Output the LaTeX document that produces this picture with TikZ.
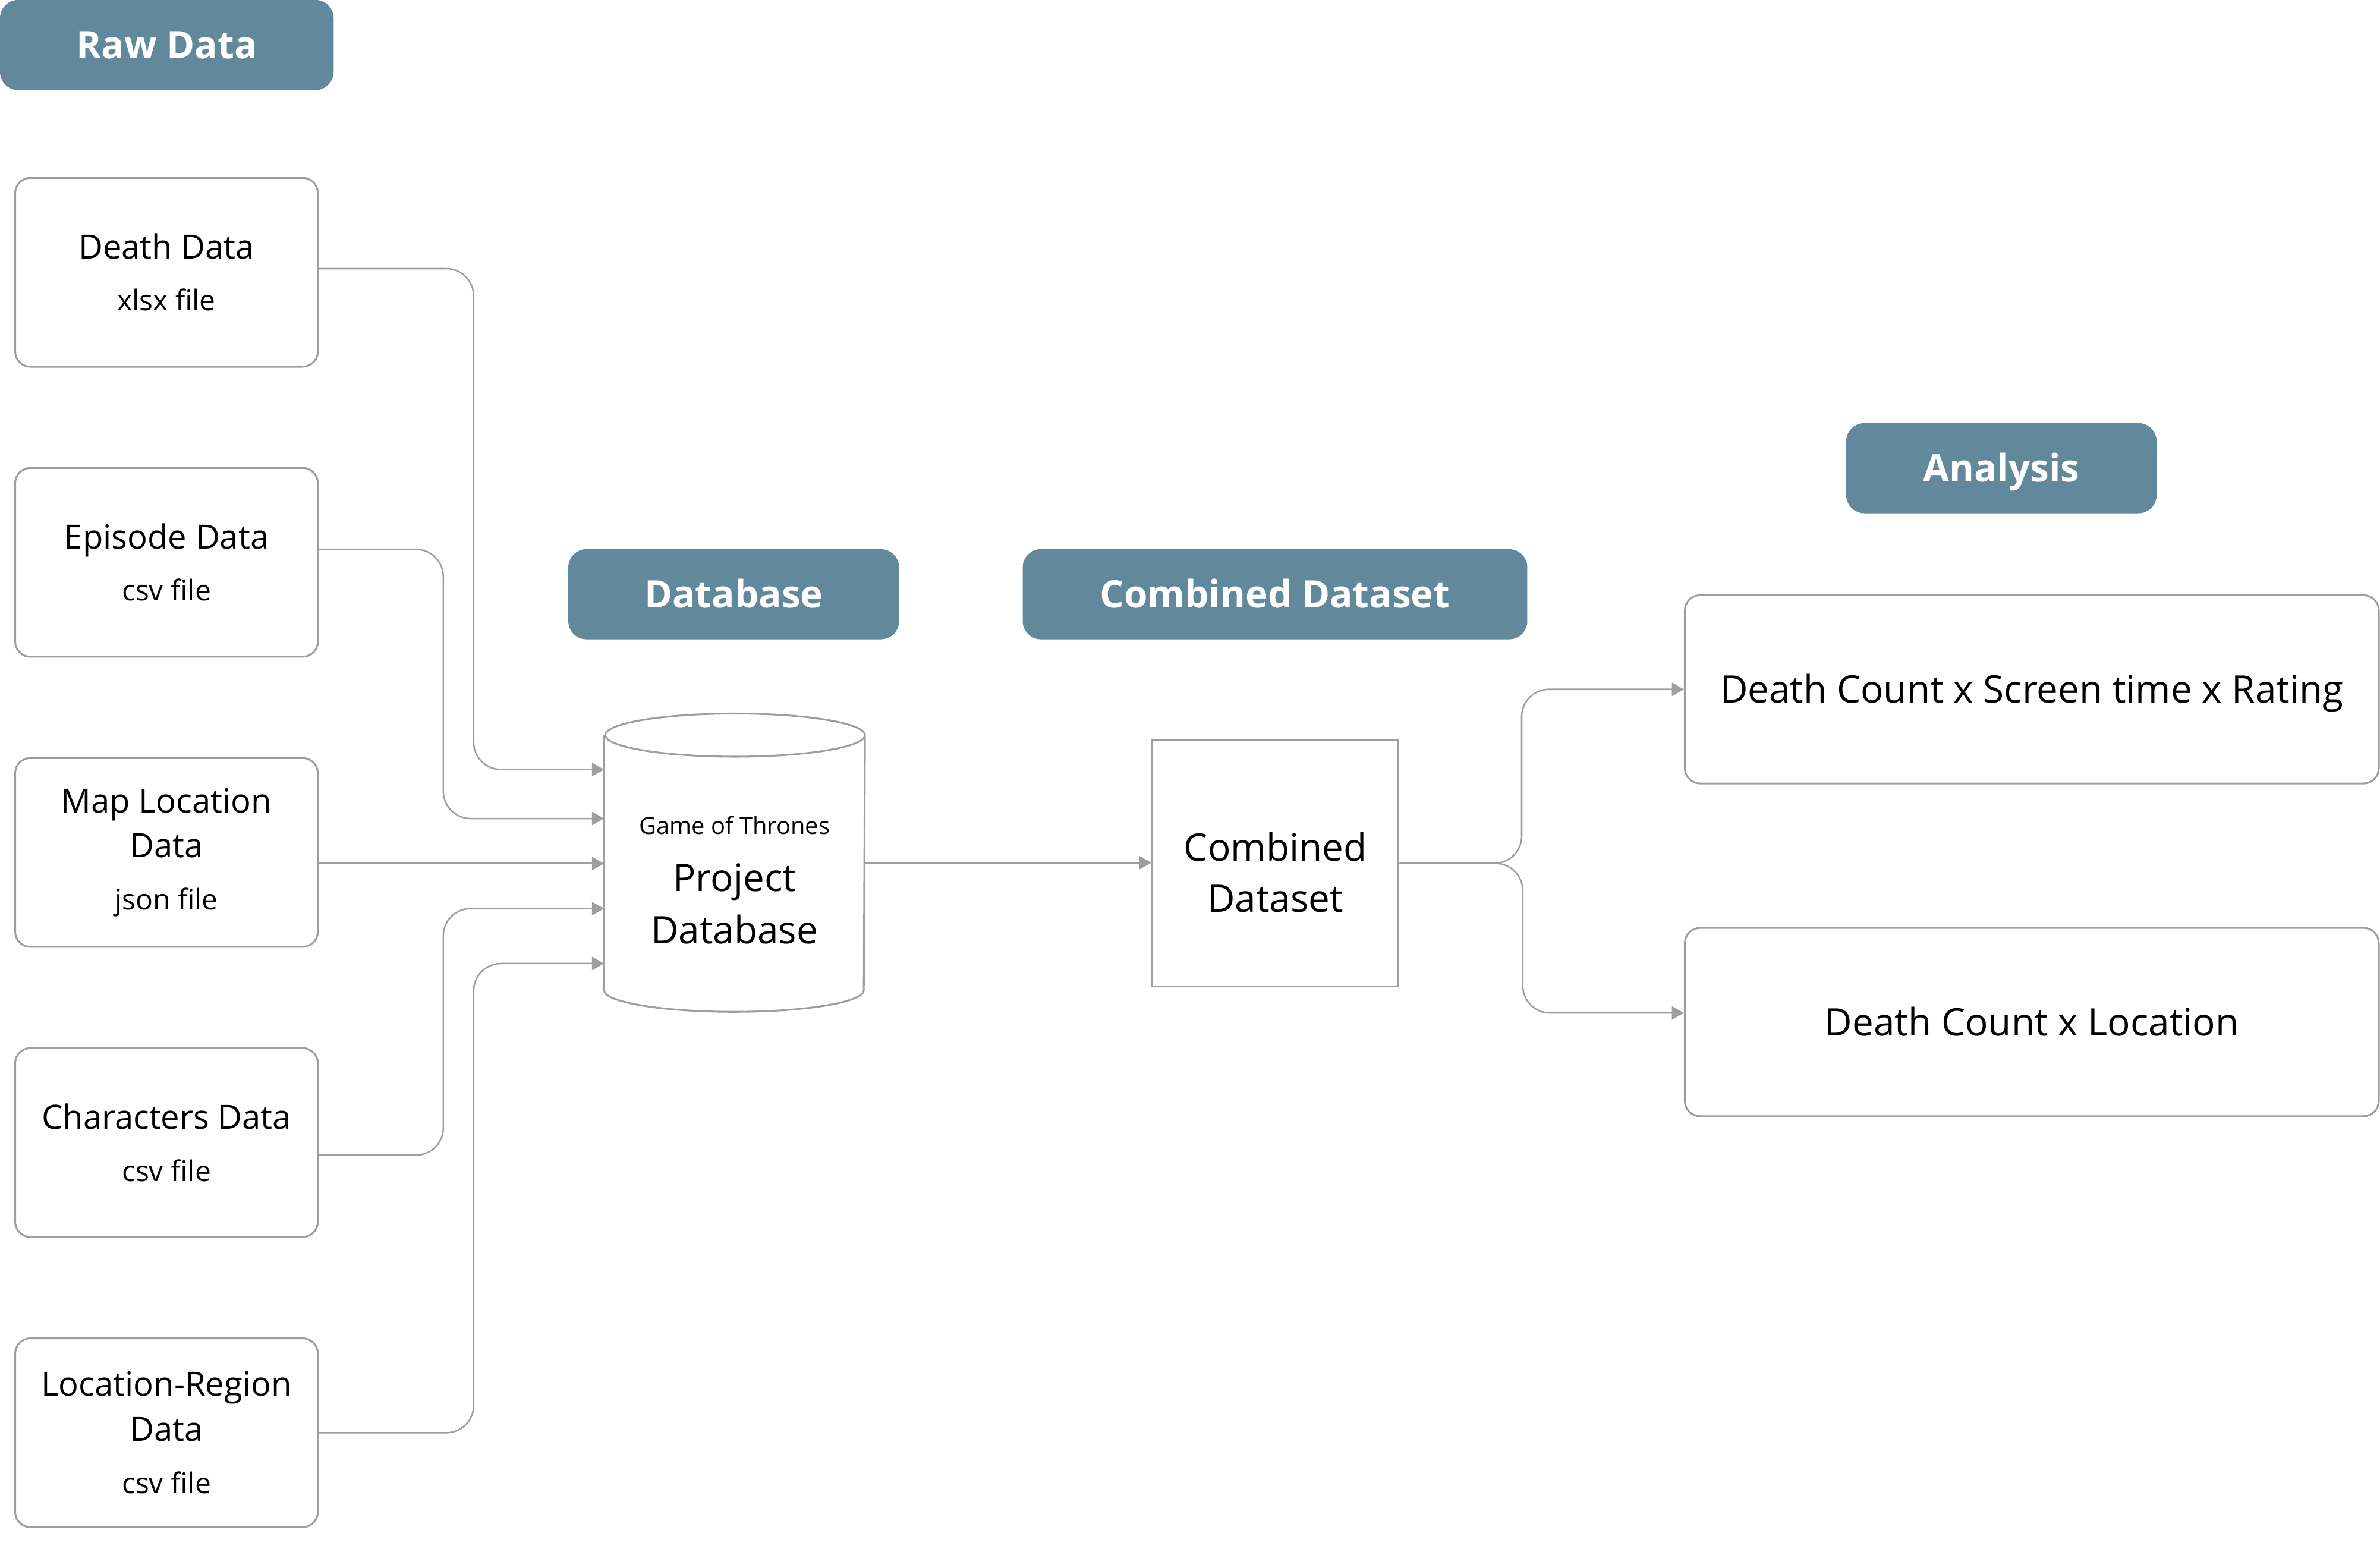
\documentclass[tikz,border=0pt]{standalone}
\usepackage{fontspec}
\setmainfont{Open Sans}
\usetikzlibrary{arrows.meta}
\definecolor{linegray}{HTML}{9E9E9E}
\definecolor{headblue}{HTML}{62889B}
\tikzset{
  >={Triangle[length=4pt,width=4.4pt]},
  header/.style={fill=headblue, rounded corners=6pt, text=white,
    font=\fontsize{12.5}{15}\selectfont\bfseries, minimum height=29.7pt,
    text height=8.93pt, text depth=0pt, inner sep=0pt},
  rawbox/.style={draw=linegray, line width=0.6pt, rounded corners=5pt,
    minimum width=99.7pt, minimum height=62.2pt, align=center,
    font=\fontsize{11}{14.8}\selectfont, inner sep=0pt},
  result/.style={draw=linegray, line width=0.6pt, rounded corners=5pt,
    minimum width=228.6pt, minimum height=62pt, font=\fontsize{12.5}{17}\selectfont,
    text height=8.93pt, text depth=0pt},
  link/.style={draw=linegray, line width=0.5pt, rounded corners=9pt, ->},
}
\newcommand{\filetype}[1]{{\fontsize{9.4}{11}\selectfont #1}}

\begin{document}
\begin{tikzpicture}[x=0.5pt,y=-0.5pt]
    \useasboundingbox (0,0) rectangle (1568,1022.09);

    % raw data column
    \node[header, minimum width=109.9pt] (rawhead) at (109.9,29.65) {Raw Data};
    \node[rawbox] (death) at (109.7,179.4) {Death Data\\[2.2pt]\filetype{xlsx file}};
    \node[rawbox] (episode) at (109.7,370.5) {Episode Data\\[2.2pt]\filetype{csv file}};
    \node[rawbox] (maploc) at (109.7,561.6) {Map Location\\Data\\[2.5pt]\filetype{json file}};
    \node[rawbox] (chars) at (109.7,752.7) {Characters Data\\[2.5pt]\filetype{csv file}};
    \node[rawbox] (locreg) at (109.7,943.9) {Location-Region\\Data\\[2.5pt]\filetype{csv file}};

    % database
    \node[header, minimum width=108.95pt] (dbhead) at (483.35,391.5) {Database};
    \node[minimum width=85.55pt, minimum height=83.65pt, inner sep=0pt] (db) at (483.9,568.35) {};
    \draw[draw=linegray, line width=0.6pt] (db.north west) -- (db.south west)
      arc[start angle=180, end angle=360, x radius=42.78pt, y radius=7.1pt] -- (db.north east)
      arc[start angle=0, end angle=180, x radius=42.78pt, y radius=7.1pt]
      arc[start angle=180, end angle=360, x radius=42.78pt, y radius=7.1pt];
    \node[align=center, font=\fontsize{12.5}{17.25}\selectfont] (dbtext) at ([yshift=-5.8pt]db.center)
      {{\fontsize{7.8}{9}\selectfont Game of Thrones}\\[1.5pt]Project\\Database};

    % combined dataset
    \node[header, minimum width=166.2pt] (combohead) at (840,391.5) {Combined Dataset};
    \node[draw=linegray, line width=0.6pt, minimum width=81.15pt, minimum height=81.2pt,
      inner sep=0pt] (combo) at (840.25,568.8) {};
    \node[align=center, font=\fontsize{12.5}{16.9}\selectfont] (combotext) at ([yshift=-3pt]combo.center)
      {Combined\\Dataset};

    % analysis
    \node[header, minimum width=102.25pt] (anahead) at (1318.55,308.45) {Analysis};
    \node[result] (rating) at (1338.6,454.15) {Death Count x Screen time x Rating};
    \node[result] (deathloc) at (1338.6,673.35) {Death Count x Location};

    % connectors
    \draw[link] ([yshift=1.2pt]death.east) -| ([xshift=-42.95pt,yshift=30.7pt]db.west) -- ([yshift=30.7pt]db.west);
    \draw[link] ([yshift=4.3pt]episode.east) -| ([xshift=-52.95pt,yshift=14.55pt]db.west) -- ([yshift=14.55pt]db.west);
    \draw[link] ([yshift=-3.65pt]maploc.east) -- ([yshift=-3.65pt]maploc.east -| db.west);
    \draw[link] ([yshift=-4.15pt]chars.east) -| ([xshift=-52.95pt,yshift=-15.1pt]db.west) -- ([yshift=-15.1pt]db.west);
    \draw[link] (locreg.east) -| ([xshift=-42.95pt,yshift=-33.2pt]db.west) -- ([yshift=-33.2pt]db.west);
    \draw[link] (db.east) -- (db.east -| combo.west);
    \draw[link] (combo.east) -| ([xshift=-53.45pt]rating.west) -- (rating.west);
    \draw[link] (combo.east) -| ([xshift=-53.1pt,yshift=3pt]deathloc.west) -- ([yshift=3pt]deathloc.west);
\end{tikzpicture}
\end{document}
